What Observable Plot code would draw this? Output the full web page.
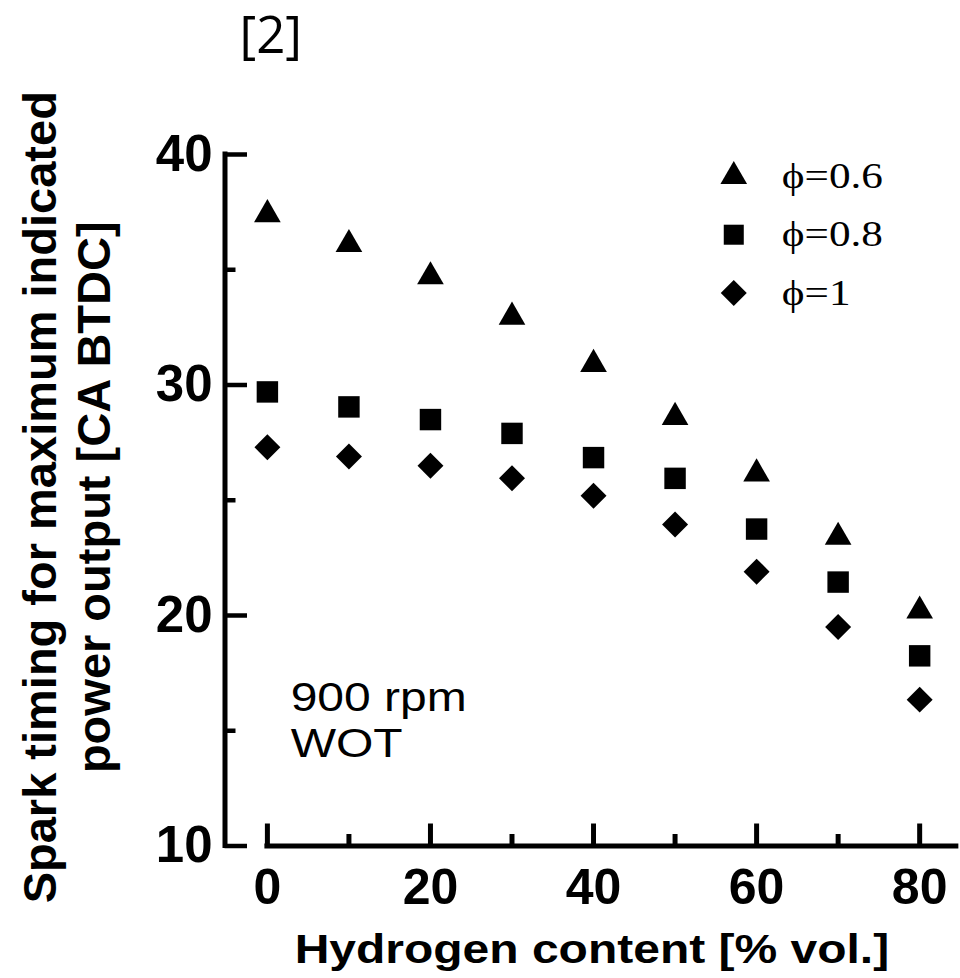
<!DOCTYPE html>
<html>
<head>
<meta charset="utf-8">
<script src="https://cdn.jsdelivr.net/npm/d3@7"></script>
<script src="https://cdn.jsdelivr.net/npm/@observablehq/plot@0.6"></script>
<style>
  html, body { margin: 0; padding: 0; background: #fff; overflow: hidden; }
  #chart svg { display: block; }
</style>
</head>
<body>
<div id="chart"></div>
<script>
// ---- data ----
const hydrogen = [0, 10, 20, 30, 40, 50, 60, 70, 80];
const phi06 = [37.4, 36.1, 34.7, 32.95, 30.9, 28.6, 26.15, 23.4, 20.2];
const phi08 = [29.7, 29.05, 28.5, 27.9, 26.85, 25.95, 23.75, 21.45, 18.25];
const phi10 = [27.3, 26.9, 26.5, 25.95, 25.2, 23.95, 21.9, 19.5, 16.35];
const seriesLabels = ["ϕ=0.6", "ϕ=0.8", "ϕ=1"];
const xMajorTicks = [0, 20, 40, 60, 80];
const xMinorTicks = [10, 30, 50, 70];
const yMajorTicks = [10, 20, 30, 40];
const yMinorTicks = [15, 25, 35];
const xLabel = "Hydrogen content [% vol.]";
const yLabel = ["Spark timing for maximum indicated", "power output [CA BTDC]"];
const annotation = ["900 rpm", "WOT"];
const sourceTag = "[2]";

// ---- layout / style ----
const xDomain = [-5.2, 84.8];
const yDomain = [10, 40];
const xAxisEnd = 84.5;
const symbols = ["triangle", "square", "diamond2"];
const symbolR = [9.9, 12.1, 11.7];
const legendR = [9.9, 11.3, 11.7];
const legendX = 57.2, legendTextX = 63.1, legendY0 = 39.05, legendStep = 2.53;
const annotX = 2.85, annotY = 17.27;
const STRETCH = 1.2;
const sans = "'Liberation Sans', Arial, Helvetica, sans-serif";
const serif = "'Liberation Serif', 'Times New Roman', serif";

const seriesValues = [phi06, phi08, phi10];
const rows = seriesValues.map(vals => vals.map((v, i) => ({x: hydrogen[i], y: v})));

const plot = Plot.plot({
  width: 960,
  height: 978,
  marginLeft: 224.5,
  marginRight: 1.7,
  marginTop: 154,
  marginBottom: 132.5,
  style: {background: "white", color: "black", fontFamily: sans, overflow: "visible"},
  x: {domain: xDomain},
  y: {domain: yDomain},
  marks: [
    Plot.ruleX([xDomain[0]], {y1: yDomain[0], y2: yDomain[1], stroke: "black", strokeWidth: 5, strokeLinecap: "square"}),
    Plot.ruleY([yDomain[0]], {x1: xMajorTicks[0], x2: xAxisEnd, stroke: "black", strokeWidth: 5, strokeLinecap: "square"}),
    Plot.axisY({ticks: yMajorTicks, tickSize: -22.5, tickPadding: 35, strokeWidth: 4.5, fontSize: 51, fontWeight: "bold", fill: "black", label: null}),
    Plot.axisY({ticks: yMinorTicks, tickSize: -11, tickFormat: () => "", strokeWidth: 4.5, label: null}),
    Plot.axisX({ticks: xMajorTicks, tickSize: -22, tickPadding: 44.5, strokeWidth: 5, fontSize: 50, fontWeight: "bold", fill: "black", label: null}),
    Plot.axisX({ticks: xMinorTicks, tickSize: -11.5, tickFormat: () => "", strokeWidth: 5, label: null}),
    ...rows.map((r, s) => Plot.dot(r, {x: "x", y: "y", symbol: symbols[s], r: symbolR[s], fill: "black", stroke: "none"})),
    ...seriesLabels.map((lab, s) => Plot.dot([lab], {x: legendX, y: legendY0 - s * legendStep, symbol: symbols[s], r: legendR[s], fill: "black", stroke: "none"})),
    Plot.text(seriesLabels, {x: legendTextX, y: (d, i) => legendY0 - i * legendStep, text: d => d, textAnchor: "start", lineAnchor: "middle", fontFamily: serif, fontSize: 36, fill: "black"}),
    Plot.text([annotation.join("\n")], {x: annotX, y: annotY, text: d => d, textAnchor: "start", lineAnchor: "top", lineHeight: 1.15, fontSize: 40, fontFamily: sans, fill: "black"}),
    Plot.text([xLabel], {frameAnchor: "bottom", dy: 88.5, text: d => d, textAnchor: "middle", lineAnchor: "top", fontSize: 40, fontWeight: "bold", fontFamily: sans, fill: "black"}),
    Plot.text([yLabel.join("\n")], {frameAnchor: "left", dx: -207, dy: -3, rotate: -90, text: d => d, textAnchor: "middle", lineAnchor: "top", lineHeight: 1.149, fontSize: 47, fontWeight: "bold", fontFamily: sans, fill: "black"}),
    Plot.text([sourceTag], {frameAnchor: "top-left", dx: 14.5, dy: -137.4, text: d => d, textAnchor: "start", lineAnchor: "top", fontSize: 51, fontFamily: "'Open Sans', 'Noto Sans', sans-serif", fill: "black"})
  ]
});

document.getElementById("chart").appendChild(plot);

// horizontal stretch for texts that appear widened in the original figure
const stretchTexts = new Set([xLabel, annotation.join(""), ...seriesLabels]);
plot.querySelectorAll("text").forEach(t => {
  if (stretchTexts.has(t.textContent)) {
    const tr = t.getAttribute("transform");
    if (tr) t.setAttribute("transform", tr + ` scale(${STRETCH},1)`);
  }
});
</script>
</body>
</html>
